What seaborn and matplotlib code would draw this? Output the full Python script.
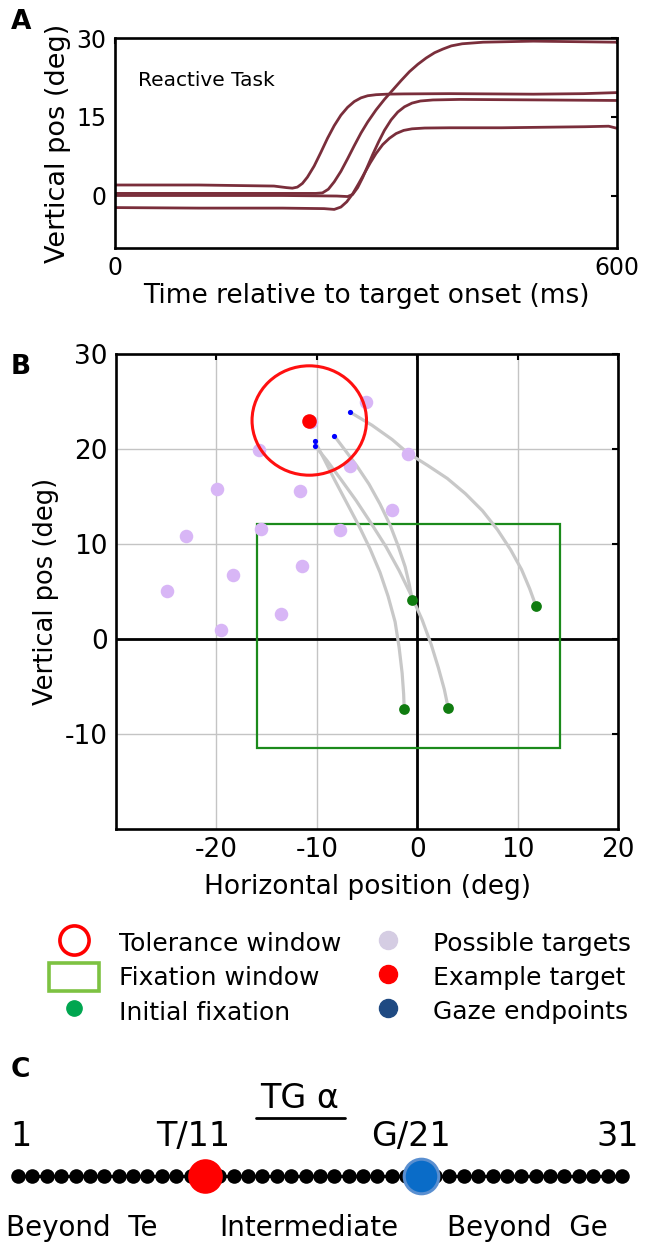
import numpy as np
import pandas as pd
import matplotlib
matplotlib.use("Agg")
import matplotlib.pyplot as plt
import seaborn as sns
from matplotlib.patches import Ellipse, Rectangle, Patch
from matplotlib.lines import Line2D

# ---------------- data ----------------
# Panel A: vertical eye position traces (ms, deg)
t_trace1 = [0, 100, 190, 205, 212, 218, 224, 230, 238, 246, 254, 262, 270, 278, 286, 294,
            302, 312, 325, 345, 400, 500, 560, 600]
y_trace1 = [2.0, 2.0, 1.8, 1.5, 1.4, 1.6, 2.3, 3.5, 5.6, 8.2, 10.9, 13.3, 15.3, 16.8, 17.9,
            18.6, 19.0, 19.2, 19.3, 19.35, 19.4, 19.3, 19.4, 19.6]
t_trace2 = [0, 100, 200, 240, 248, 255, 262, 270, 278, 286, 294, 302, 312, 322, 332, 342,
            352, 362, 372, 382, 392, 402, 415, 440, 500, 600]
y_trace2 = [0.4, 0.4, 0.4, 0.4, 0.5, 1.2, 2.6, 4.6, 7.0, 9.5, 11.9, 14.0, 16.3, 18.3, 20.1,
            21.9, 23.6, 25.0, 26.2, 27.2, 27.9, 28.5, 28.9, 29.2, 29.4, 29.2]
t_trace3 = [0, 100, 200, 265, 278, 284, 290, 296, 302, 308, 315, 322, 330, 338, 346, 355,
            365, 380, 412, 512, 600]
y_trace3 = [0.0, 0.0, 0.0, -0.1, -0.2, 0.2, 1.5, 3.4, 5.6, 7.8, 10.2, 12.4, 14.4, 15.9, 16.9,
            17.6, 18.0, 18.2, 18.3, 18.2, 18.1]
t_trace4 = [0, 100, 200, 250, 262, 270, 277, 284, 291, 298, 305, 312, 320, 328, 336, 345,
            355, 370, 400, 462, 562, 590, 600]
y_trace4 = [-2.3, -2.4, -2.4, -2.5, -2.65, -2.2, -1.2, 0.3, 2.2, 4.2, 6.2, 8.0, 9.7, 10.9,
            11.8, 12.4, 12.7, 12.85, 12.9, 12.9, 13.1, 13.2, 12.8]

# Panel B: targets, endpoints, fixations (deg)
possible_x = [-5.1, -10.6, -15.8, -0.96, -6.67, -19.9, -11.7, -2.5, -15.6, -7.67, -23.0,
              -11.5, -18.3, -24.9, -13.6, -19.5]
possible_y = [24.9, 22.8, 19.9, 19.5, 18.2, 15.8, 15.6, 13.6, 11.6, 11.5, 10.8, 7.7, 6.7,
              5.1, 2.6, 1.0]
target_x, target_y = [-10.75], [23.0]
tolerance_radius = 5.7
gaze_x = [-6.67, -8.25, -10.13, -10.21]
gaze_y = [23.9, 21.4, 20.3, 20.85]
fix_x = [11.83, -0.5, 3.08, -1.29]
fix_y = [3.47, 4.15, -7.22, -7.42]
fix_window = (-16.0, -11.5, 30.2, 23.6)  # x0, y0, width, height

traj1_x = [-6.67, -4.5, -2.5, -0.96, 1.0, 3.0, 4.8, 6.5, 8.0, 9.3, 10.4, 11.2, 11.83]
traj1_y = [23.87, 22.5, 21.0, 19.6, 18.3, 16.9, 15.3, 13.5, 11.5, 9.4, 7.3, 5.3, 3.47]
traj2_x = [-8.25, -7.2, -6.0, -4.8, -3.7, -2.7, -1.9, -1.2, -0.8, -0.5]
traj2_y = [21.37, 19.9, 18.2, 16.3, 14.2, 12.0, 9.8, 7.6, 5.8, 4.15]
traj3_x = [-10.13, -9.0, -7.6, -6.1, -4.6, -3.1, -1.8, -0.6, 0.5, 1.4, 2.1, 2.7, 3.08]
traj3_y = [20.28, 18.8, 16.8, 14.6, 12.2, 9.7, 7.2, 4.6, 2.0, -0.6, -3.0, -5.3, -7.22]
traj4_x = [-10.21, -9.3, -8.2, -7.0, -5.8, -4.7, -3.7, -2.9, -2.2, -1.8, -1.5, -1.35, -1.29]
traj4_y = [20.85, 19.0, 16.7, 14.3, 11.9, 9.5, 7.0, 4.5, 1.8, -0.9, -3.6, -5.8, -7.42]

# Panel C: gaze scale
chain_idx = list(range(43))
target_idx, gaze_idx = 13, 28
scale_labels = ["1", "T/11", "G/21", "31"]
scale_pos = [0.2, 12.2, 27.3, 41.7]
region_labels = ["Beyond  Te", "Intermediate", "Beyond  Ge"]
region_pos = [4.45, 20.2, 35.4]

# ---------------- style ----------------
sns.set_style("white")
plt.rcParams["font.family"] = ["DejaVu Sans"]
plt.rcParams["axes.unicode_minus"] = False
plt.rcParams["text.color"] = "black"
plt.rcParams["axes.labelcolor"] = "black"

W, H = 655, 1243
fig = plt.figure(figsize=(W / 100, H / 100), dpi=100)


def box(x0, y0, x1, y1):
    return [x0 / W, 1 - y1 / H, (x1 - x0) / W, (y1 - y0) / H]


def style_axes(ax, size):
    for s in ax.spines.values():
        s.set_color("black")
        s.set_linewidth(1.9)
        s.set_visible(True)
    ax.tick_params(direction="in", top=True, right=True, length=4, width=1.5,
                   labelsize=size, colors="black", pad=6)


maroon = "#7a2e3b"

# ---------------- panel A ----------------
axA = fig.add_axes(box(115, 38, 617, 248))
dfA = pd.concat([
    pd.DataFrame({"t": t, "y": y, "trace": i})
    for i, (t, y) in enumerate([(t_trace1, y_trace1), (t_trace2, y_trace2),
                                (t_trace3, y_trace3), (t_trace4, y_trace4)])
])
sns.lineplot(data=dfA, x="t", y="y", units="trace", estimator=None, sort=False,
             color=maroon, lw=2.0, ax=axA)
axA.set_xlim(0, 600)
axA.set_ylim(-10, 30)
axA.set_xticks([0, 600])
axA.set_yticks([0, 15, 30])
style_axes(axA, 17)
axA.set_xlabel("Time relative to target onset (ms)", fontsize=19, labelpad=2)
axA.set_ylabel("Vertical pos (deg)", fontsize=19.5, labelpad=4)
axA.text(27, 22, "Reactive Task", fontsize=14.5, va="center", ha="left")

# ---------------- panel B ----------------
axB = fig.add_axes(box(116, 354, 618, 829))
axB.set_xlim(-30, 20)
axB.set_ylim(-20, 30)
axB.set_xticks([-20, -10, 0, 10, 20])
axB.set_yticks([-10, 0, 10, 20, 30])
axB.grid(True, color="#c4c4c4", lw=1.0)
axB.set_axisbelow(True)
axB.axhline(0, color="black", lw=2.0, zorder=1)
axB.axvline(0, color="black", lw=2.0, zorder=1)

axB.add_patch(Rectangle(fix_window[:2], fix_window[2], fix_window[3], fill=False,
                        edgecolor="#1b8a1b", lw=1.6, zorder=2))

dfB = pd.concat([
    pd.DataFrame({"x": x, "y": y, "traj": i})
    for i, (x, y) in enumerate([(traj1_x, traj1_y), (traj2_x, traj2_y),
                                (traj3_x, traj3_y), (traj4_x, traj4_y)])
])
sns.lineplot(data=dfB, x="x", y="y", units="traj", estimator=None, sort=False,
             color="#c8c8c8", lw=2.3, ax=axB, zorder=3)
sns.scatterplot(x=possible_x, y=possible_y, color="#d8b6f6", s=95, linewidth=0,
                ax=axB, zorder=4)
axB.add_patch(Ellipse((target_x[0], target_y[0]), 2 * tolerance_radius,
                      2 * tolerance_radius * 1.01, fill=False, edgecolor="#ff1010",
                      lw=2.2, zorder=5))
sns.scatterplot(x=target_x, y=target_y, color="#ff0000", s=110, linewidth=0,
                ax=axB, zorder=6)
sns.scatterplot(x=gaze_x, y=gaze_y, color="#0000ff", s=14, linewidth=0,
                ax=axB, zorder=6)
sns.scatterplot(x=fix_x, y=fix_y, color="#107c10", s=60, linewidth=0,
                ax=axB, zorder=6)
style_axes(axB, 19)
axB.set_xlabel("Horizontal position (deg)", fontsize=19, labelpad=8)
axB.set_ylabel("Vertical pos (deg)", fontsize=18.5, labelpad=4)

# ---------------- legend ----------------
handles = [
    Line2D([], [], ls="none", marker="o", markersize=21, markerfacecolor="none",
           markeredgecolor="#ff0000", markeredgewidth=2.6),
    Patch(facecolor="none", edgecolor="#7dc242", lw=2.6),
    Line2D([], [], ls="none", marker="o", markersize=11, color="#00a650"),
    Line2D([], [], ls="none", marker="o", markersize=13, color="#d5cde3"),
    Line2D([], [], ls="none", marker="o", markersize=13, color="#ff0000"),
    Line2D([], [], ls="none", marker="o", markersize=13, color="#1f4a82"),
]
labels = ["Tolerance window", "Fixation window", "Initial fixation",
          "Possible targets", "Example target", "Gaze endpoints"]
fig.legend(handles, labels, ncol=2, frameon=False, fontsize=18,
           loc="upper left", bbox_to_anchor=(49 / W, 1 - 929 / H),
           borderpad=0, borderaxespad=0, handlelength=2.0, handleheight=1.35,
           handletextpad=0.8, columnspacing=0.85, labelspacing=0.24)

# ---------------- panel C ----------------
axC = fig.add_axes(box(0, 1060, 655, 1243))
axC.axis("off")
axC.set_xlim(-1.252, 44.30)
axC.set_ylim(0, 1)
chain_y = 0.366
axC.plot([chain_idx[0], chain_idx[-1]], [chain_y, chain_y], color="black", lw=2.2)
sns.scatterplot(x=chain_idx, y=[chain_y] * len(chain_idx), color="black", s=110,
                linewidth=0, ax=axC, zorder=3)
axC.scatter([target_idx], [chain_y], s=620, color="#ff0000", zorder=4, linewidth=0)
axC.scatter([gaze_idx], [chain_y], s=620, color="#0a6cc8", edgecolor="#5a8fd0",
            linewidth=2.2, zorder=4)
xt = axC.get_xaxis_transform()
for p, lab in zip(scale_pos, scale_labels):
    axC.text(p, 0.58, lab, fontsize=24, ha="center", va="center", transform=xt)
for p, lab in zip(region_pos, region_labels):
    axC.text(p, 0.08, lab, fontsize=20, ha="center", va="center", transform=xt)
axC.text(19.6, 0.79, "TG α", fontsize=24, ha="center", va="center", transform=xt)
axC.plot([16.55, 22.75], [0.683, 0.683], color="black", lw=2.0)

# panel letters
for y, letter in [(22, "A"), (367, "B"), (1070, "C")]:
    fig.text(11 / W, 1 - y / H, letter, fontsize=19, fontweight="bold",
             ha="left", va="center")

fig.savefig("out.png", dpi=100)
